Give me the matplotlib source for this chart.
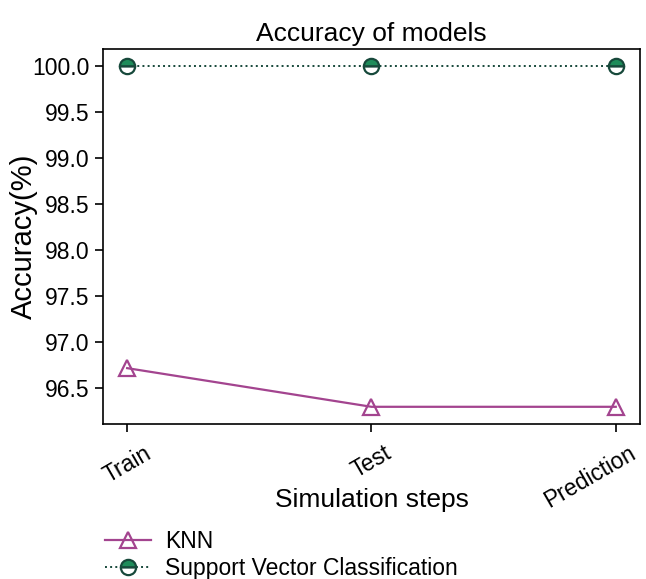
import numpy as np
import matplotlib
matplotlib.use('Agg')
import matplotlib.pyplot as plt
import matplotlib.transforms as mtransforms

plt.rcParams['font.family'] = ['Liberation Sans', 'DejaVu Sans']

# Data
steps = ['Train', 'Test', 'Prediction']
knn_acc = [96.72, 96.30, 96.30]
svc_acc = [100.0, 100.0, 100.0]

knn_color = '#a3448f'
svc_fill = '#1e8c5a'
svc_edge = '#17493b'

fig = plt.figure(figsize=(6.46, 5.79), dpi=100)
ax = fig.add_axes([0.159, 0.268, 0.832, 0.647])

x = np.arange(len(steps))
ax.plot(x, knn_acc, color=knn_color, lw=1.6, marker='^', markersize=11,
        markerfacecolor='none', markeredgecolor=knn_color,
        markeredgewidth=1.6, label='KNN')
ax.plot(x, svc_acc, color=svc_edge, lw=1.4, ls=':', marker='o',
        markersize=11, fillstyle='top', markerfacecolor=svc_fill,
        markerfacecoloralt='white', markeredgecolor=svc_edge,
        markeredgewidth=1.6, label='Support Vector Classification')

ax.tick_params(length=6, width=1.2)
ax.tick_params(axis='x', pad=7)
ax.set_xticks(x)
ax.set_xticklabels(steps, rotation=30, fontsize=16.5)
ax.set_yticks(np.arange(96.5, 100.01, 0.5))
ax.set_yticklabels(['%.1f' % v for v in np.arange(96.5, 100.01, 0.5)],
                   fontsize=16.5)
for s in ax.spines.values():
    s.set_linewidth(1.2)

# last label is pushed left so it stays inside the figure
lbl = ax.get_xticklabels()[-1]
shift = mtransforms.ScaledTranslation(-26 / 100, 0, fig.dpi_scale_trans)
lbl.set_transform(lbl.get_transform() + shift)

ax.set_xlabel('Simulation steps', fontsize=19)
ax.xaxis.set_label_coords(0.5, -0.172)
ax.set_ylabel('Accuracy(%)', fontsize=21)
ax.yaxis.set_label_coords(-0.12, 0.5)
ax.set_title('Accuracy of models', fontsize=19)

fig.legend(loc='upper left', bbox_to_anchor=(0.145, 0.105), frameon=False,
           fontsize=16.5, handlelength=2.0, handletextpad=0.6,
           borderpad=0.0, labelspacing=0.2)

fig.savefig('out.png', dpi=100)
